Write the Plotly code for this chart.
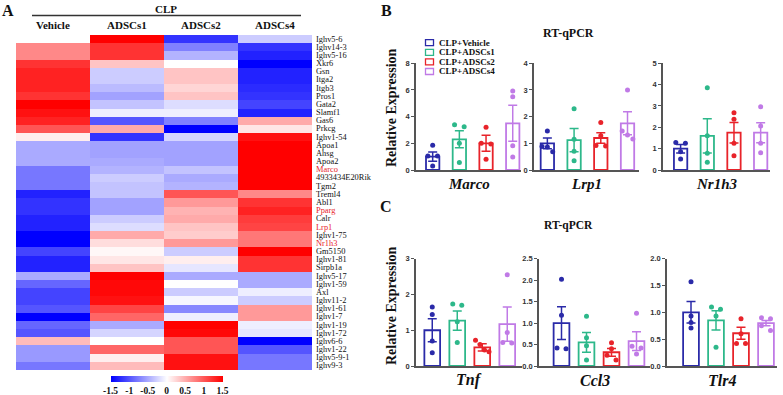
import plotly.graph_objects as go

W, H = 783, 395
def px(x): return x / W
def py(y): return 1 - y / H

SERIF = "Liberation Serif"
SANS = "Liberation Sans"

# ---------------- Heatmap data (rows top to bottom) ----------------
genes = ["Ighv5-6", "Ighv14-3", "Ighv5-16", "Xkr6", "Gsn", "Itga2", "Itgb3", "Pros1",
         "Gata2", "Slamf1", "Gas6", "Prkcg", "Ighv1-54", "Apoa1", "Ahsg", "Apoa2",
         "Marco", "4933434E20Rik", "Tgm2", "Treml4", "Abl1", "Pparg", "Calr", "Lrp1",
         "Ighv1-75", "Nr1h3", "Gm5150", "Ighv1-81", "Sirpb1a", "Ighv5-17", "Ighv1-59",
         "Axl", "Ighv11-2", "Ighv1-61", "Ighv1-7", "Ighv1-19", "Ighv1-72", "Ighv6-6",
         "Ighv1-22", "Ighv5-9-1", "Ighv9-3"]
highlight_genes = ["Marco", "Pparg", "Lrp1", "Nr1h3"]
heat_cols = ["Vehicle", "ADSCs1", "ADSCs2", "ADSCs4"]

z_vehicle = [0.0, 0.7, 0.7, 1.2, 1.3, 1.3, 1.3, 1.2, 1.5, 1.4, 1.3, 1.0, 0.1, -0.5, -0.5,
             -0.5, -0.8, -0.8, -0.8, -1.3, -1.2, -1.2, -1.3, -1.3, -1.5, -1.5, -1.1, -1.3,
             -1.3, -0.5, -0.9, -1.1, -1.1, -1.0, -1.5, -0.9, -1.0, 0.4, -0.6, -0.6, -0.8]
z_adscs1 = [1.5, 1.2, 1.2, 0.35, -0.3, -0.3, -0.4, -0.55, -0.35, -0.1, -1.0, 0.5, -1.2,
            -0.55, -0.55, -0.5, -0.45, -0.3, -0.35, -0.35, -0.55, -0.55, -0.3, -0.2, 0.5,
            0.2, 0.05, 0.15, 0.35, 1.5, 1.45, 1.45, 1.4, 1.1, 0.9, -0.5, -0.25, 0.0, 0.9,
            0.1, 0.4]
z_adscs2 = [-1.2, -0.75, -0.45, 0.0, 0.35, 0.35, 0.25, 0.35, -0.2, -0.1, -0.75, -1.5,
            -0.25, -0.55, -0.55, -0.55, -0.35, -0.5, -0.45, 1.0, 0.6, 0.45, 0.5, 0.35, 0.3,
            0.6, -0.3, 0.1, -0.15, -0.5, 0.0, -0.3, -0.05, -0.7, -0.1, 1.5, 1.45, 1.0, 1.0,
            1.4, 1.4]
z_adscs4 = [-0.3, -1.2, -1.3, -1.5, -1.3, -1.3, -1.25, -1.2, -1.1, -1.3, 0.5, 0.15, 1.4,
            1.5, 1.5, 1.5, 1.5, 1.5, 1.5, 0.7, 1.2, 1.3, 1.15, 1.1, 0.8, 0.8, 1.5, 1.2, 1.2,
            -0.5, -0.5, -0.1, -0.3, 0.6, 0.6, -0.1, -0.15, -1.5, -1.0, -0.8, -0.8]
cbar_ticks = [-1.5, -1, -0.5, 0, 0.5, 1, 1.5]
cbar_labels = ["-1.5", "-1", "-0.5", "0", "0.5", "1", "1.5"]

# ---------------- RT-qPCR data ----------------
groups = ["CLP+Vehicle", "CLP+ADSCs1", "CLP+ADSCs2", "CLP+ADSCs4"]

marco_mean = [1.0, 2.3, 2.0, 3.5]
marco_sem = [0.35, 0.64, 0.6, 1.35]
marco_pts = [[1.85, 1.05, 1.05, 0.3], [3.4, 3.25, 2.0, 0.57], [3.2, 2.0, 1.95, 0.8], [5.93, 5.5, 1.82, 0.98]]

lrp1_mean = [1.0, 1.12, 1.2, 1.75]
lrp1_sem = [0.2, 0.44, 0.2, 0.43]
lrp1_pts = [[1.46, 0.88, 0.86, 0.68], [2.3, 1.15, 0.7, 0.35], [1.78, 1.28, 0.92, 0.9], [3.0, 1.46, 1.31, 1.16]]

nr1h3_mean = [1.0, 1.6, 1.75, 1.75]
nr1h3_sem = [0.2, 0.8, 0.48, 0.47]
nr1h3_pts = [[1.29, 1.25, 0.86, 0.51], [3.85, 1.6, 0.78, 0.36], [2.68, 2.38, 1.25, 0.67], [2.96, 2.06, 1.25, 0.81]]

tnf_mean = [1.0, 1.27, 0.52, 1.17]
tnf_sem = [0.32, 0.27, 0.1, 0.48]
tnf_pts = [[1.65, 1.44, 0.7, 0.37], [1.73, 1.7, 1.24, 0.66], [0.72, 0.6, 0.45, 0.4], [2.55, 0.94, 0.66, 0.64]]

ccl3_mean = [1.0, 0.55, 0.32, 0.58]
ccl3_sem = [0.38, 0.23, 0.09, 0.22]
ccl3_pts = [[2.02, 1.18, 0.42, 0.4], [1.16, 0.66, 0.47, 0.14], [0.54, 0.4, 0.25, 0.14], [1.23, 0.46, 0.42, 0.28]]

tlr4_mean = [1.0, 0.85, 0.61, 0.8]
tlr4_sem = [0.2, 0.18, 0.11, 0.05]
tlr4_pts = [[1.57, 0.93, 0.81, 0.71], [1.1, 1.06, 0.93, 0.35], [0.88, 0.6, 0.42, 0.42], [0.9, 0.88, 0.75, 0.66]]

# ---------------- styles / layout config ----------------
colors = ["#2a2aa8", "#2db88a", "#e8232a", "#c07ae6"]

panels = [
    dict(gene="Marco", mean=marco_mean, sem=marco_sem, pts=marco_pts,
         dom=(416, 521), xr=(-0.625, 3.31), row="B", ymax=8, dtick=2, fmt="", bw=0.5),
    dict(gene="Lrp1", mean=lrp1_mean, sem=lrp1_sem, pts=lrp1_pts,
         dom=(534, 639), xr=(-0.5, 3.43), row="B", ymax=4, dtick=1, fmt="", bw=0.5),
    dict(gene="Nr1h3", mean=nr1h3_mean, sem=nr1h3_sem, pts=nr1h3_pts,
         dom=(663, 770), xr=(-0.66, 3.35), row="B", ymax=5, dtick=1, fmt="", bw=0.5),
    dict(gene="Tnf", mean=tnf_mean, sem=tnf_sem, pts=tnf_pts,
         dom=(416, 522), xr=(-0.65, 3.59), row="C", ymax=3, dtick=1, fmt="", bw=0.63),
    dict(gene="Ccl3", mean=ccl3_mean, sem=ccl3_sem, pts=ccl3_pts,
         dom=(539, 650), xr=(-0.9, 3.54), row="C", ymax=2.5, dtick=0.5, fmt=".1f", bw=0.63),
    dict(gene="Tlr4", mean=tlr4_mean, sem=tlr4_sem, pts=tlr4_pts,
         dom=(667, 777), xr=(-0.96, 3.44), row="C", ymax=2.0, dtick=0.5, fmt=".1f", bw=0.63),
]
row_ydom = {"B": (170, 63.3), "C": (366, 258.7)}
gene_label_y = {"B": 184, "C": 380}
gene_label_size = {"B": 15, "C": 16}


def swarm_offsets(vals, ymax):
    order = sorted(range(len(vals)), key=lambda i: -vals[i])
    offs = [0.0] * len(vals)
    clusters, cur = [], [order[0]]
    for i in order[1:]:
        if abs(vals[cur[-1]] - vals[i]) < 0.05 * ymax:
            cur.append(i)
        else:
            clusters.append(cur)
            cur = [i]
    clusters.append(cur)
    patterns = {1: [0.0], 2: [-0.18, 0.18], 3: [-0.2, 0.0, 0.2], 4: [-0.27, -0.09, 0.09, 0.27]}
    for c in clusters:
        for k, i in enumerate(c):
            offs[i] = patterns[min(len(c), 4)][k]
    return offs


def ann(x, y, text, size, xref="paper", yref="paper", xanchor="center", yanchor="middle",
        color="#111", family=SERIF, **kw):
    return dict(x=x, y=y, xref=xref, yref=yref, text=text, showarrow=False,
                xanchor=xanchor, yanchor=yanchor,
                font=dict(family=family, size=size, color=color), **kw)


fig = go.Figure()

# Heatmap
z = [[z_vehicle[i], z_adscs1[i], z_adscs2[i], z_adscs4[i]] for i in range(len(genes))]
fig.add_trace(go.Heatmap(
    z=z, x=list(range(len(heat_cols))), y=list(range(len(genes))),
    colorscale=[[0, "rgb(0,0,255)"], [0.5, "rgb(255,255,255)"], [1, "rgb(255,0,0)"]],
    zmin=-1.5, zmax=1.5, xaxis="x", yaxis="y",
    colorbar=dict(orientation="h", x=px(166.5), xanchor="center", y=py(375.5), yanchor="top",
                  len=112, lenmode="pixels", thickness=6, thicknessmode="pixels",
                  xpad=0, ypad=0, outlinewidth=0, ticks="", ticklen=0,
                  tickvals=cbar_ticks, ticktext=cbar_labels,
                  tickfont=dict(family=SERIF, size=9.5, color="#111", weight="bold")),
))

layout = dict(
    width=W, height=H, margin=dict(l=0, r=0, t=0, b=0, pad=0, autoexpand=False),
    paper_bgcolor="white", plot_bgcolor="white", showlegend=False,
    xaxis=dict(domain=[px(16), px(312)], range=[-0.5, 3.5], visible=False, anchor="y"),
    yaxis=dict(domain=[py(370), py(35)], range=[len(genes) - 0.5, -0.5], visible=False, anchor="x"),
)

annotations = []
shapes = []

# gene labels on heatmap
for i, g in enumerate(genes):
    annotations.append(ann(3.5, i, g, 8.4, xref="x", yref="y", xanchor="left", xshift=1.5,
                           color="#e8232a" if g in highlight_genes else "#111"))
# column headers
for j, c in enumerate(heat_cols):
    annotations.append(ann(j, py(25), "<b>%s</b>" % c, 11, xref="x"))
annotations.append(ann(px(166), py(8.5), "<b>CLP</b>", 11))
shapes.append(dict(type="line", xref="paper", yref="paper", x0=px(32), x1=px(301),
                   y0=py(15.5), y1=py(15.5), line=dict(color="#333", width=1.5)))

# Panel letters
for letter, (lx, ly) in {"A": (8, 10), "B": (386, 10), "C": (386, 206)}.items():
    annotations.append(ann(px(lx), py(ly), "<b>%s</b>" % letter, 16))

# Titles
annotations.append(ann(px(568), py(33), "<b>RT-qPCR</b>", 12))
annotations.append(ann(px(568), py(225), "<b>RT-qPCR</b>", 11.5))
for yc in (108, 306):
    annotations.append(ann(px(391), py(yc), "<b>Relative Expression</b>", 14, textangle=-90))

# Legend (manual)
for k, g in enumerate(groups):
    yc = 42.7 + k * 9.6
    shapes.append(dict(type="rect", xref="paper", yref="paper", x0=px(425.5), x1=px(433.5),
                       y0=py(yc + 3), y1=py(yc - 3), line=dict(color=colors[k], width=1.3),
                       fillcolor="white"))
    annotations.append(ann(px(436.5), py(yc), "<b>%s</b>" % g, 9, xanchor="left"))

# Bar panels
for n, p in enumerate(panels):
    ax = n + 2
    xa, ya = "x%d" % ax, "y%d" % ax
    y0, y1 = row_ydom[p["row"]]
    layout["xaxis%d" % ax] = dict(domain=[px(p["dom"][0]), px(p["dom"][1])], range=list(p["xr"]),
                                  anchor=ya, showline=True, linecolor="#555", linewidth=1.5,
                                  showticklabels=False, ticks="", showgrid=False, zeroline=False,
                                  fixedrange=True)
    layout["yaxis%d" % ax] = dict(domain=[py(y0), py(y1)], range=[0, p["ymax"]], anchor=xa,
                                  dtick=p["dtick"], tick0=0, tickformat=p["fmt"],
                                  showline=True, linecolor="#555", linewidth=1.5,
                                  ticks="outside", ticklen=3, tickwidth=1.2, tickcolor="#555",
                                  showgrid=False, zeroline=False,
                                  tickfont=dict(family=SANS, size=7.5, color="#333", weight="bold"))
    for k in range(4):
        fig.add_trace(go.Bar(
            x=[k], y=[p["mean"][k]], width=p["bw"], xaxis=xa, yaxis=ya,
            marker=dict(color="rgba(255,255,255,0)", line=dict(color=colors[k], width=1.8)),
            error_y=dict(type="data", array=[p["sem"][k]], color=colors[k], thickness=1.5, width=4.5),
        ))
        offs = swarm_offsets(p["pts"][k], p["ymax"])
        fig.add_trace(go.Scatter(
            x=[k + o for o in offs], y=p["pts"][k], mode="markers", xaxis=xa, yaxis=ya,
            marker=dict(color=colors[k], size=5), cliponaxis=False,
        ))
    annotations.append(ann(0.5, py(gene_label_y[p["row"]]), "<b><i>%s</i></b>" % p["gene"],
                           gene_label_size[p["row"]], xref="%s domain" % xa))

layout["annotations"] = annotations
layout["shapes"] = shapes
layout["barmode"] = "overlay"
fig.update_layout(**layout)
fig.write_html("out.html", config={"displayModeBar": False},
               post_script="document.body.style.margin='0';document.body.style.overflow='hidden';")
